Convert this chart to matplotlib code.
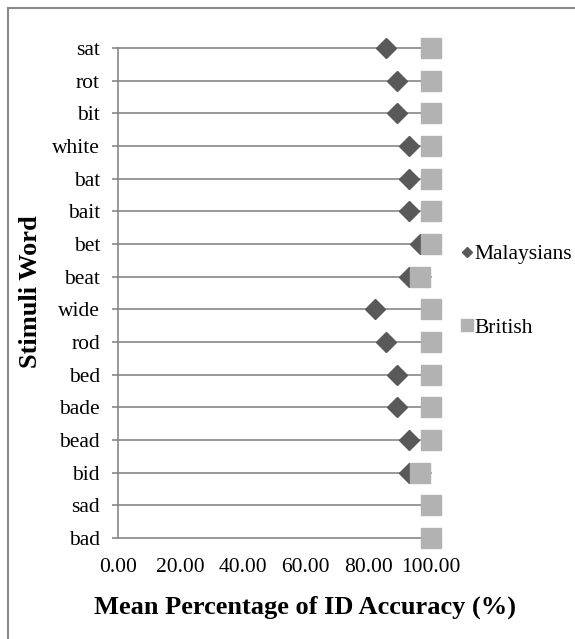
import numpy as np
import matplotlib.pyplot as plt
from matplotlib.lines import Line2D
from matplotlib.patches import Rectangle

plt.rcParams['font.family'] = ['Liberation Serif', 'DejaVu Serif']

# data (bottom to top)
words = ['bad', 'sad', 'bid', 'bead', 'bade', 'bed', 'rod', 'wide',
         'beat', 'bet', 'bait', 'bat', 'white', 'bit', 'rot', 'sat']
malaysians = [100.00, 100.00, 92.86, 92.86, 89.29, 89.29, 85.71, 82.14,
              92.86, 96.43, 92.86, 92.86, 92.86, 89.29, 89.29, 85.71]
british = [100.00, 100.00, 96.43, 100.00, 100.00, 100.00, 100.00, 100.00,
           96.43, 100.00, 100.00, 100.00, 100.00, 100.00, 100.00, 100.00]
xticks = [0, 20, 40, 60, 80, 100]

W, H = 575, 639
fig = plt.figure(figsize=(W / 100, H / 100), dpi=100)
ax = fig.add_axes([118 / W, 1 - 538 / H, (431 - 118) / W, (538 - 48) / H])

grid_col = '#878787'
y = np.arange(len(words))

# horizontal gridlines across the whole plot area
for yi in y:
    ax.plot([0, 100], [yi, yi], color=grid_col, lw=1.2, zorder=1, clip_on=False)

ax.plot(malaysians, y, linestyle='none', marker='D', ms=10.2, color='#595959',
        mec='#595959', zorder=3, clip_on=False)
ax.plot(british, y, linestyle='none', marker='s', ms=14.4, color='#b2b2b2',
        mec='#b2b2b2', zorder=4, clip_on=False)

ax.set_xlim(0, 100)
ax.set_ylim(0, len(words) - 1)
ax.set_yticks(y)
ax.set_yticklabels(words, fontsize=15.5)
ax.set_xticks(xticks)
ax.set_xticklabels(['%.2f' % v for v in xticks], fontsize=15.5)
ax.tick_params(axis='x', length=0, pad=14.5)
ax.tick_params(axis='y', length=4, width=1.2, color=grid_col, pad=9)

for s in ['top', 'right', 'bottom']:
    ax.spines[s].set_visible(False)
ax.spines['left'].set_color(grid_col)
ax.spines['left'].set_linewidth(1.2)

# axis titles
fig.text(305 / W, 1 - 607 / H, 'Mean Percentage of ID Accuracy (%)',
         fontsize=19, fontweight='bold', ha='center', va='center')
fig.text(31 / W, 1 - 292 / H, 'Stimuli Word', fontsize=19, fontweight='bold',
         rotation=90, ha='center', va='center')

# legend
handles = [Line2D([], [], linestyle='none', marker='D', ms=5.2, color='#595959'),
           Line2D([], [], linestyle='none', marker='s', ms=8, color='#b2b2b2')]
fig.legend(handles, ['Malaysians', 'British'], loc='center left',
           bbox_to_anchor=(462 / W, 1 - 291 / H), frameon=False, fontsize=15.5,
           handlelength=0.5, handletextpad=0.1, labelspacing=2.5,
           borderpad=0, borderaxespad=0)

# chart border
fig.patches.append(Rectangle((7.5 / W, -0.1), 1.2, (H - 7.5) / H + 0.1,
                             transform=fig.transFigure, fill=False,
                             edgecolor='#888888', lw=1.5))

fig.savefig('out.png', dpi=100)
